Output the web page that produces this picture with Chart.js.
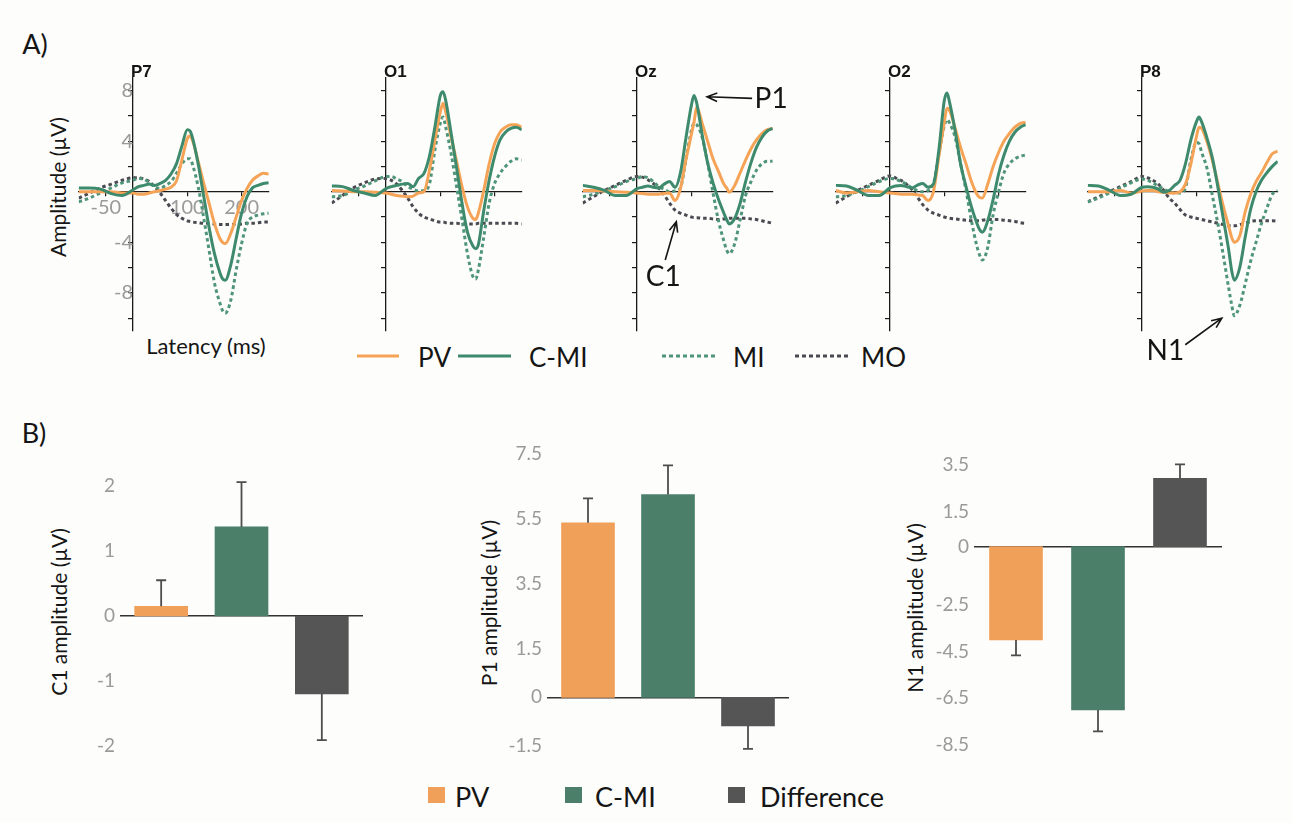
<!DOCTYPE html>
<html>
<head>
<meta charset="utf-8">
<script src="https://cdn.jsdelivr.net/npm/chart.js@4.4.1/dist/chart.umd.min.js"></script>
<style>
  body { margin: 0; background: #fdfdfb; }
  #fig { position: relative; width: 1292px; height: 823px; overflow: hidden; font-family: Lato, 'Open Sans', sans-serif; color: #151515; }
  .t { position: absolute; white-space: nowrap; line-height: 1; transform: translate(-50%, -50%); }
  .r { transform: translate(-50%, -50%) rotate(-90deg); }
  .l { position: absolute; white-space: nowrap; line-height: 1; transform: translateY(-50%); }
  canvas { position: absolute; }
</style>
</head>
<body>
<div id="fig">
  <div class="t" style="left:35px;top:43px;font-size:27px">A)</div>
  <div class="t" style="left:34px;top:432px;font-size:27px">B)</div>

  <div class="t r" style="left:57px;top:187px;font-size:21px">Amplitude (µV)</div>
  <div class="t" style="left:206px;top:346px;font-size:22px">Latency (ms)</div>

  <div class="t r" style="left:58px;top:612px;font-size:21px">C1 amplitude (µV)</div>
  <div class="t r" style="left:488px;top:603px;font-size:21px">P1 amplitude (µV)</div>
  <div class="t r" style="left:914px;top:608px;font-size:21px">N1 amplitude (µV)</div>

  <!-- legendas -->
  <svg style="position:absolute;left:0;top:0" width="1292" height="823">
    <line x1="357" y1="356" x2="399" y2="356" stroke="#f5a356" stroke-width="3"/>
    <line x1="458" y1="356" x2="511" y2="356" stroke="#3e8a6c" stroke-width="3"/>
    <line x1="662" y1="356" x2="716" y2="356" stroke="#4f9579" stroke-width="3" stroke-dasharray="4 3"/>
    <line x1="795" y1="356" x2="851" y2="356" stroke="#4a4a52" stroke-width="3" stroke-dasharray="4 3"/>
    <rect x="428" y="787" width="17" height="16" fill="#f0a058"/>
    <rect x="565" y="787" width="17" height="16" fill="#4c7f6a"/>
    <rect x="728" y="787" width="17" height="16" fill="#555555"/>
  </svg>
  <div class="l" style="left:418px;top:357px;font-size:26px">PV</div>
  <div class="l" style="left:529px;top:357px;font-size:26px">C-MI</div>
  <div class="l" style="left:733px;top:357px;font-size:26px">MI</div>
  <div class="l" style="left:861px;top:357px;font-size:26px">MO</div>

  <div class="l" style="left:455px;top:796px;font-size:27px">PV</div>
  <div class="l" style="left:595px;top:796px;font-size:27px">C-MI</div>
  <div class="l" style="left:760px;top:796px;font-size:27px">Difference</div>

  <canvas id="cP7"></canvas>
  <canvas id="cO1"></canvas>
  <canvas id="cOz"></canvas>
  <canvas id="cO2"></canvas>
  <canvas id="cP8"></canvas>
  <canvas id="cC1"></canvas>
  <canvas id="cP1"></canvas>
  <canvas id="cN1"></canvas>
</div>

<script>
// Latências (ms) comuns a todos os eletrodos
const LATENCY = [-100, -80, -60, -40, -20, 0, 10, 20, 30, 40, 50, 60, 70, 80, 90, 100, 105, 110,
                 120, 130, 140, 150, 160, 165, 170, 180, 190, 200, 210, 220, 230, 240, 250];
const X_TICKS = [-50, 100, 200];
const Y_TICKS = [-10, -8, -6, -4, -2, 0, 2, 4, 6, 8];
const Y_LABELED = [8, 4, -4, -8];

// P7
const P7_CMI = [0.3, 0.3, 0.2, -0.15, -0.3, 0.15, 0.4, 0.5, 0.6, 0.5, 0.65, 0.9, 1.4, 2.2, 3.6, 4.9, 4.8, 4.2,
                2.2, -0.3, -2.8, -4.9, -6.4, -6.9, -7.0, -5.8, -3.7, -1.7, -0.4, 0.3, 0.5, 0.65, 0.7];
const P7_PV  = [0, 0, 0, 0, -0.1, -0.1, -0.2, -0.2, -0.1, 0, 0.1, 0.2, 0.35, 0.85, 2.5, 4.2, 4.4, 4.0,
                2.4, 0.7, -0.9, -2.5, -3.7, -4.0, -4.1, -3.3, -2.0, -0.7, 0.25, 0.9, 1.25, 1.45, 1.4];
const P7_MI  = [-0.8, -0.5, -0.1, 0.3, 0.7, 0.9, 1.05, 1.0, 0.7, 0.4, 0.25, 0.5, 0.8, 1.45, 2.2, 2.6, 2.6, 2.1,
                0.4, -2.0, -4.6, -7.2, -8.8, -9.4, -9.6, -8.6, -6.2, -4.1, -2.5, -2.0, -1.85, -1.75, -1.7];
const P7_MO  = [-0.5, -0.1, 0.3, 0.6, 0.9, 1.1, 1.1, 1.0, 0.8, 0.4, -0.1, -0.7, -1.3, -1.8, -2.1, -2.3, -2.35, -2.4,
                -2.45, -2.5, -2.5, -2.55, -2.6, -2.6, -2.6, -2.6, -2.6, -2.55, -2.5, -2.5, -2.45, -2.4, -2.4];

// O1
const O1_CMI = [0.45, 0.4, 0.1, -0.1, -0.3, 0.25, 0.4, 0.5, 0.6, 0.65, 0.4, 1.05, 1.45, 2.8, 5.1, 7.6, 7.9, 7.2,
                4.6, 1.9, -0.9, -3.2, -4.3, -4.5, -4.2, -1.5, 0.9, 2.8, 4.1, 4.7, 5.0, 5.1, 4.9];
const O1_PV  = [0.1, 0.05, 0, 0, -0.05, -0.1, -0.2, -0.3, -0.35, -0.4, -0.35, -0.1, 0, 1.7, 4.05, 6.3, 7.0, 6.3,
                4.3, 2.4, 0.4, -1.2, -2.1, -2.2, -1.7, 0.1, 2.2, 3.8, 4.7, 5.1, 5.3, 5.3, 5.1];
const O1_MI  = [-0.4, -0.3, 0.1, 0.45, 0.85, 1.2, 1.2, 1.0, 0.8, 0.4, 0.2, 0.05, 0.1, 0.6, 3.3, 5.4, 5.9, 5.1,
                3.0, 0.4, -2.2, -4.9, -6.7, -6.9, -6.2, -3.6, -0.9, 0.65, 1.45, 2.0, 2.4, 2.6, 2.5];
const O1_MO  = [-0.9, -0.3, 0.3, 0.7, 1.0, 1.05, 0.9, 0.6, 0.1, -0.5, -1.2, -1.7, -2.0, -2.15, -2.3, -2.4, -2.4, -2.45,
                -2.5, -2.5, -2.55, -2.55, -2.55, -2.55, -2.5, -2.5, -2.5, -2.5, -2.5, -2.5, -2.5, -2.5, -2.55];

// Oz
const OZ_CMI = [0.5, 0.35, 0.1, -0.3, -0.3, 0.25, 0.35, 0.45, 0.35, 0.3, 0.6, 0.8, 0.35, 1.5, 4.2, 6.8, 7.6, 7.0,
                4.5, 2.3, 0.7, -0.6, -1.7, -2.2, -2.55, -2.1, -0.9, 0.8, 2.3, 3.5, 4.3, 4.8, 5.0];
const OZ_PV  = [0.1, 0.1, 0.05, 0, -0.05, -0.1, -0.15, -0.2, -0.2, -0.2, -0.15, -0.1, -0.7, 0.25, 2.5, 4.5, 5.5, 6.7,
                5.4, 4.0, 2.6, 1.6, 0.6, 0.3, -0.05, 0.5, 1.5, 2.5, 3.4, 4.1, 4.6, 4.9, 5.0];
const OZ_MI  = [-0.4, -0.2, 0.1, 0.4, 0.8, 1.05, 1.2, 1.1, 0.8, 0.4, 0.2, 0, 0.05, 0.3, 2.5, 4.8, 5.4, 5.3,
                4.3, 2.3, -0.1, -2.3, -3.9, -4.6, -4.9, -4.1, -2.2, -0.3, 0.8, 1.7, 2.2, 2.4, 2.4];
const OZ_MO  = [-0.9, -0.4, 0.1, 0.5, 0.9, 1.2, 1.15, 0.95, 0.65, 0.3, -0.25, -0.9, -1.45, -1.7, -1.85, -2.0, -2.05, -2.05,
                -2.1, -2.1, -2.15, -2.2, -2.15, -2.15, -2.1, -2.1, -2.1, -2.1, -2.15, -2.2, -2.3, -2.4, -2.5];

// O2
const O2_CMI = [0.5, 0.45, 0.1, -0.3, -0.3, 0.3, 0.45, 0.5, 0.4, 0.3, 0.5, 0.65, 0.35, 0.6, 3.3, 7.2, 7.8, 7.0,
                4.8, 2.2, 0.4, -1.2, -2.5, -3.0, -3.2, -2.3, -0.6, 1.4, 2.9, 4.0, 4.7, 5.1, 5.3];
const O2_PV  = [0.1, -0.1, 0, 0.1, 0, -0.1, -0.15, -0.2, -0.2, -0.2, -0.25, -0.3, -0.7, 0.0, 2.8, 5.5, 6.6, 6.4,
                5.0, 3.5, 2.2, 0.8, -0.2, -0.45, -0.5, 0.6, 2.0, 3.1, 4.0, 4.6, 5.1, 5.4, 5.5];
const O2_MI  = [-0.4, -0.3, 0, 0.4, 0.8, 1.05, 1.0, 0.8, 0.6, 0.3, 0.1, 0, 0.1, 0.6, 3.0, 5.2, 5.7, 5.4,
                4.3, 2.2, 0.1, -2.3, -4.3, -5.0, -5.4, -4.4, -1.8, 0.0, 1.5, 2.2, 2.6, 2.8, 2.9];
const O2_MO  = [-0.9, -0.4, 0.1, 0.5, 0.9, 1.25, 1.1, 0.9, 0.6, 0.2, -0.4, -1.0, -1.45, -1.7, -1.85, -2.0, -2.05, -2.1,
                -2.15, -2.2, -2.25, -2.3, -2.3, -2.3, -2.25, -2.2, -2.2, -2.2, -2.25, -2.3, -2.35, -2.45, -2.5];

// P8
const P8_CMI = [0.5, 0.45, 0.1, -0.3, -0.2, 0.35, 0.4, 0.35, 0.2, -0.05, 0.1, 0.5, 0.9, 2.2, 4.1, 5.5, 5.9, 5.5,
                4.2, 2.6, 0.3, -2.2, -4.7, -6.2, -7.0, -6.0, -3.6, -1.4, 0.0, 0.9, 1.5, 2.0, 2.4];
const P8_PV  = [0, 0, 0, 0.1, -0.1, 0.05, 0.1, 0.1, 0, -0.05, -0.1, -0.1, 0, 0.6, 2.2, 4.3, 5.1, 5.0,
                3.9, 2.4, 0.6, -1.2, -2.8, -3.6, -4.0, -3.5, -1.6, -0.2, 0.8, 1.5, 2.3, 3.0, 3.2];
const P8_MI  = [-0.8, -0.5, -0.1, 0.3, 0.7, 1.0, 0.9, 0.7, 0.45, 0.2, 0, -0.1, -0.1, 0.3, 2.5, 3.9, 3.8, 3.1,
                1.8, -0.4, -2.6, -5.1, -7.7, -8.9, -9.8, -9.0, -7.3, -5.5, -4.0, -2.5, -1.3, -0.2, 0.1];
const P8_MO  = [-0.8, -0.4, 0, 0.4, 0.8, 1.2, 1.1, 0.9, 0.6, 0.1, -0.5, -0.9, -1.4, -1.85, -2.0, -2.1, -2.15, -2.2,
                -2.3, -2.4, -2.5, -2.6, -2.7, -2.7, -2.7, -2.6, -2.5, -2.35, -2.3, -2.3, -2.3, -2.3, -2.35];

// Amplitudes dos componentes (painel B)
const GRUPOS = ['PV', 'C-MI', 'Difference'];
const C1_VAL = [0.15, 1.37, -1.2];
const C1_ERR = [0.4, 0.69, 0.71];
const C1_TICKS = [-2, -1, 0, 1, 2];
const P1_VAL = [5.38, 6.25, -0.88];
const P1_ERR = [0.75, 0.9, 0.71];
const P1_TICKS = [-1.5, 0, 1.5, 3.5, 5.5, 7.5];
const N1_VAL = [-4.0, -7.0, 2.93];
const N1_ERR = [0.66, 0.92, 0.6];
const N1_TICKS = [-8.5, -6.5, -4.5, -2.5, 0, 1.5, 3.5];

const COR_PV = '#f5a356';
const COR_CMI = '#3e8a6c';
const COR_MI = '#4f9579';
const COR_MO = '#4a4a52';
const BARRAS = ['#f0a058', '#4c7f6a', '#555555'];

Chart.defaults.font.family = "Lato, 'Open Sans', sans-serif";
Chart.defaults.animation = false;
Chart.defaults.plugins.legend.display = false;
Chart.defaults.plugins.tooltip.enabled = false;

// Nome do eletrodo + setas de anotação
const decoracao = {
    id: 'decoracao',
    afterDraw(chart, args, o) {
        const { ctx, chartArea, scales: { x, y } } = chart;
        ctx.save();
        ctx.fillStyle = '#151515';
        ctx.font = 'bold 17px "Liberation Sans", Arial, sans-serif';
        ctx.textBaseline = 'alphabetic';
        ctx.fillText(o.nome, x.getPixelForValue(0) - 2, chartArea.top - 1);

        (o.notas || []).forEach(n => {
            const x1 = x.getPixelForValue(n.de[0]), y1 = y.getPixelForValue(n.de[1]);
            const x2 = x.getPixelForValue(n.para[0]), y2 = y.getPixelForValue(n.para[1]);
            const ang = Math.atan2(y2 - y1, x2 - x1);
            ctx.strokeStyle = '#151515';
            ctx.lineWidth = 1.6;
            ctx.beginPath();
            ctx.moveTo(x1, y1);
            ctx.lineTo(x2, y2);
            ctx.moveTo(x2 - 11 * Math.cos(ang - 0.4), y2 - 11 * Math.sin(ang - 0.4));
            ctx.lineTo(x2, y2);
            ctx.lineTo(x2 - 11 * Math.cos(ang + 0.4), y2 - 11 * Math.sin(ang + 0.4));
            ctx.stroke();
            ctx.font = '28px Lato, sans-serif';
            ctx.textAlign = 'center';
            ctx.textBaseline = 'middle';
            ctx.fillText(n.texto, x.getPixelForValue(n.pos[0]), y.getPixelForValue(n.pos[1]));
            ctx.textAlign = 'left';
        });
        ctx.restore();
    }
};

function graficoErp(id, nome, eixoX, pv, cmi, mi, mo, comRotulos, notas) {
    const cv = document.getElementById(id);
    cv.width = 250;
    cv.height = 320;
    cv.style.left = (eixoX - 80) + 'px';
    cv.style.top = '55px';
    const xy = arr => arr.map((v, i) => ({ x: LATENCY[i], y: v }));

    new Chart(cv, {
        type: 'line',
        data: {
            datasets: [
                { data: xy(cmi), borderColor: COR_CMI, borderWidth: 3 },
                { data: xy(pv), borderColor: COR_PV, borderWidth: 3 },
                { data: xy(mi), borderColor: COR_MI, borderWidth: 3, borderDash: [3.5, 3] },
                { data: xy(mo), borderColor: COR_MO, borderWidth: 3, borderDash: [3.5, 3] }
            ]
        },
        options: {
            responsive: false,
            layout: { padding: { left: 25.7, right: 34.25, top: 22.85, bottom: 44.15 } },
            elements: {
                point: { radius: 0 },
                line: { cubicInterpolationMode: 'monotone', fill: false }
            },
            scales: {
                x: {
                    type: 'linear', min: -100, max: 250,
                    position: { y: 0 },
                    afterBuildTicks: s => { s.ticks = X_TICKS.map(v => ({ value: v })); },
                    grid: { drawOnChartArea: false, tickLength: 4, color: '#1a1a1a', lineWidth: 1.2 },
                    border: { color: '#1a1a1a', width: 1.3 },
                    ticks: { display: comRotulos, autoSkip: false, maxRotation: 0, color: '#9a9a9a', font: { size: 20 }, padding: 0 }
                },
                y: {
                    min: -11, max: 9,
                    position: { x: 0 },
                    afterBuildTicks: s => { s.ticks = Y_TICKS.map(v => ({ value: v })); },
                    grid: { drawOnChartArea: false, tickLength: 4, color: '#1a1a1a', lineWidth: 1.2 },
                    border: { color: '#1a1a1a', width: 1.3 },
                    ticks: {
                        autoSkip: false, color: '#9a9a9a', font: { size: 20 }, padding: 4,
                        callback: v => (comRotulos && Y_LABELED.includes(v)) ? String(v) : ''
                    }
                }
            },
            plugins: { decoracao: { nome, notas } }
        },
        plugins: [decoracao]
    });
}

// Barras de erro (só no sentido oposto ao zero)
const barrasErro = {
    id: 'barrasErro',
    afterDatasetsDraw(chart, args, o) {
        const { ctx, scales: { y } } = chart;
        const meta = chart.getDatasetMeta(0);
        const vals = chart.data.datasets[0].data;
        ctx.save();
        ctx.strokeStyle = '#4d4d4d';
        ctx.lineWidth = 1.8;
        meta.data.forEach((bar, i) => {
            const v = vals[i];
            const fim = y.getPixelForValue(v + Math.sign(v) * o.erros[i]);
            ctx.beginPath();
            ctx.moveTo(bar.x, bar.y);
            ctx.lineTo(bar.x, fim);
            ctx.moveTo(bar.x - 5, fim);
            ctx.lineTo(bar.x + 5, fim);
            ctx.stroke();
        });
        ctx.restore();
    }
};

function graficoBarras(id, esq, topo, larg, alt, valores, erros, yMin, yMax, yTicks) {
    const cv = document.getElementById(id);
    cv.width = larg + 70;
    cv.height = alt + 40;
    cv.style.left = (esq - 60) + 'px';
    cv.style.top = (topo - 20) + 'px';

    new Chart(cv, {
        type: 'bar',
        data: {
            labels: GRUPOS,
            datasets: [{ data: valores, backgroundColor: BARRAS, barThickness: 53 }]
        },
        options: {
            responsive: false,
            layout: { padding: { left: 0, right: 10, top: 20, bottom: 20 } },
            scales: {
                x: {
                    position: { y: 0 },
                    grid: { display: false, drawTicks: false },
                    border: { color: '#333333', width: 1.5 },
                    ticks: { display: false }
                },
                y: {
                    min: yMin, max: yMax,
                    afterBuildTicks: s => { s.ticks = yTicks.map(v => ({ value: v })); },
                    afterFit: s => { s.width = 60; },
                    grid: { display: false, drawTicks: false },
                    border: { display: false },
                    ticks: { color: '#9a9a9a', font: { size: 19 }, padding: 6, callback: v => String(v) }
                }
            },
            plugins: { barrasErro: { erros } }
        },
        plugins: [barrasErro]
    });
}

graficoErp('cP7', 'P7', 133, P7_PV, P7_CMI, P7_MI, P7_MO, true, []);
graficoErp('cO1', 'O1', 385.7, O1_PV, O1_CMI, O1_MI, O1_MO, false, []);
graficoErp('cOz', 'Oz', 636.7, OZ_PV, OZ_CMI, OZ_MI, OZ_MO, false, [
    { texto: 'P1', pos: [247, 7.3], de: [212, 7.38], para: [129, 7.5] },
    { texto: 'C1', pos: [48.4, -6.74], de: [52, -5.4], para: [72.4, -2.37] }
]);
graficoErp('cO2', 'O2', 890, O2_PV, O2_CMI, O2_MI, O2_MO, false, []);
graficoErp('cP8', 'P8', 1141.7, P8_PV, P8_CMI, P8_MI, P8_MO, false, [
    { texto: 'N1', pos: [43, -12.6], de: [79.7, -12.1], para: [147, -10.0] }
]);

graficoBarras('cC1', 121, 485.5, 241, 260, C1_VAL, C1_ERR, -2, 2, C1_TICKS);
graficoBarras('cP1', 548, 453.75, 240, 292.5, P1_VAL, P1_ERR, -1.5, 7.5, P1_TICKS);
graficoBarras('cN1', 975, 465, 246, 280.8, N1_VAL, N1_ERR, -8.5, 3.5, N1_TICKS);
</script>
</body>
</html>
